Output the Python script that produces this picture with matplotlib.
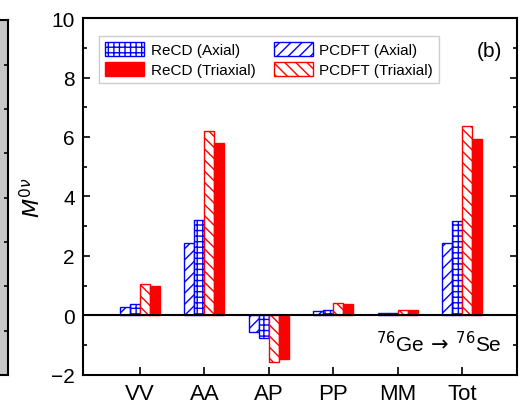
import matplotlib.pyplot as plt
import numpy as np

plt.rcParams['font.family'] = ['Liberation Sans', 'DejaVu Sans']
plt.rcParams['hatch.linewidth'] = 1.0

categories = ['VV', 'AA', 'AP', 'PP', 'MM', 'Tot']
pcdft_axial = [0.30, 2.44, -0.56, 0.14, 0.07, 2.43]
recd_axial = [0.39, 3.21, -0.75, 0.18, 0.09, 3.17]
pcdft_triaxial = [1.06, 6.19, -1.55, 0.43, 0.20, 6.38]
recd_triaxial = [1.00, 5.80, -1.46, 0.39, 0.19, 5.93]

fig = plt.figure(figsize=(5.26, 4.06), dpi=100)

# cropped neighbouring panel on the left edge
ax0 = fig.add_axes([-0.2, 0.0739, 0.2143, 0.874])
ax0.set_facecolor('#c8c8c8')
ax0.set_xticks([])
ax0.set_ylim(0, 8)
ax0.set_yticks(np.arange(0, 8.1, 1))
ax0.yaxis.tick_right()
ax0.tick_params(axis='y', direction='in', length=3, width=1.2, labelright=False)
for s in ax0.spines.values():
    s.set_linewidth(1.5)

ax = fig.add_axes([0.1578, 0.0739, 0.8251, 0.8793])
x = np.arange(1, len(categories) + 1)
w = 0.155

b1 = ax.bar(x - 1.5 * w, pcdft_axial, w, facecolor='white', edgecolor='blue',
            hatch='///', linewidth=1, label='PCDFT (Axial)')
b2 = ax.bar(x - 0.5 * w, recd_axial, w, facecolor='white', edgecolor='blue',
            hatch='+++', linewidth=1, label='ReCD (Axial)')
b3 = ax.bar(x + 0.5 * w, pcdft_triaxial, w, facecolor='white', edgecolor='red',
            hatch='\\\\\\', linewidth=1, label='PCDFT (Triaxial)')
b4 = ax.bar(x + 1.5 * w, recd_triaxial, w, facecolor='red', edgecolor='red',
            linewidth=1, label='ReCD (Triaxial)')

ax.axhline(0, color='black', lw=1.5)
ax.set_xlim(0.115, 6.855)
ax.set_ylim(-2, 10)
ax.set_xticks(x)
ax.set_xticklabels(categories, fontsize=16)
ax.set_yticks(np.arange(-2, 10.1, 2))
ax.set_yticks(np.arange(-1, 10, 2), minor=True)
ax.tick_params(axis='both', which='major', direction='in', length=5, width=1.2,
               labelsize=15, right=True, pad=6)
ax.tick_params(axis='y', which='minor', direction='in', length=3, width=1.2, right=True)
ax.tick_params(axis='x', which='major', length=6, labelsize=16)
for s in ax.spines.values():
    s.set_linewidth(1.5)

ax.set_ylabel(r'$M^{0\nu}$', fontsize=16, labelpad=4)

ax.legend(handles=[b2, b4, b1, b3], ncol=2, fontsize=11, loc='upper left',
          bbox_to_anchor=(0.02, 0.97), handlelength=2.6, handleheight=1.1,
          columnspacing=1.2, handletextpad=0.4, labelspacing=0.3,
          borderpad=0.35, fancybox=False, edgecolor='#cccccc', framealpha=1)

ax.text(0.965, 0.935, '(b)', transform=ax.transAxes, fontsize=15, ha='right', va='top')
ax.text(0.965, 0.09, r'$^{76}$Ge$\,\rightarrow\,$$^{76}$Se', transform=ax.transAxes,
        fontsize=15, ha='right', va='center')

fig.savefig('out.png', dpi=100)
